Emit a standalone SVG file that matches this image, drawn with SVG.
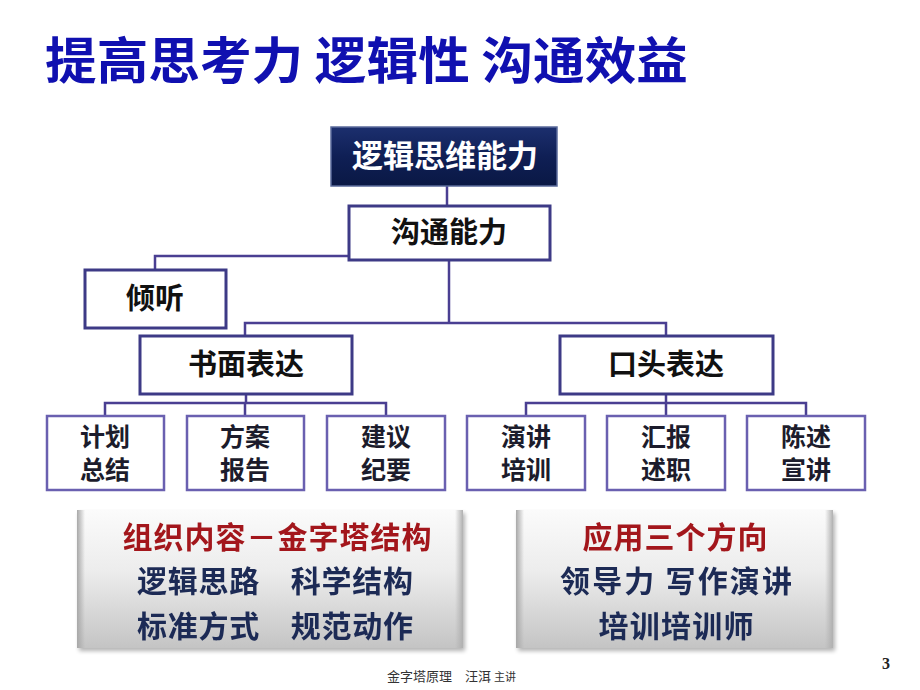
<svg xmlns="http://www.w3.org/2000/svg" width="920" height="690" viewBox="0 0 920 690">
<defs>
<linearGradient id="navy" x1="0" y1="0" x2="0" y2="1">
<stop offset="0" stop-color="#1c2f6e"/>
<stop offset="0.5" stop-color="#0f1f55"/>
<stop offset="1" stop-color="#0a1844"/>
</linearGradient>
<linearGradient id="panel" x1="0" y1="0" x2="0" y2="1">
<stop offset="0" stop-color="#fbfbfb"/>
<stop offset="0.45" stop-color="#ececec"/>
<stop offset="1" stop-color="#c4c4c4"/>
</linearGradient>
<linearGradient id="bevelL" x1="0" y1="0" x2="1" y2="0">
<stop offset="0" stop-color="#a8a8a8"/>
<stop offset="1" stop-color="#a8a8a8" stop-opacity="0"/>
</linearGradient>
<linearGradient id="bevelR" x1="1" y1="0" x2="0" y2="0">
<stop offset="0" stop-color="#b0b0b0"/>
<stop offset="1" stop-color="#b0b0b0" stop-opacity="0"/>
</linearGradient>
<filter id="sh" x="-5%" y="-5%" width="115%" height="120%">
<feGaussianBlur in="SourceAlpha" stdDeviation="2"/>
<feOffset dx="2" dy="3"/>
<feComponentTransfer><feFuncA type="linear" slope="0.3"/></feComponentTransfer>
<feMerge><feMergeNode/><feMergeNode in="SourceGraphic"/></feMerge>
</filter>
</defs>
<style>
text{font-family:"Noto Sans CJK SC","Liberation Sans",sans-serif;text-anchor:middle;font-weight:bold}
.box{fill:#fff;stroke:#3d3a86;stroke-width:3}
.sbox{fill:#fff;stroke:#6a60b0;stroke-width:2.5}
.lbl{font-size:29px;fill:#111}
.slbl{font-size:25px;fill:#1c1c2c}
.conn{fill:none;stroke:#4a3f92;stroke-width:2.5}
.red{fill:#a3191c;font-size:30px}
.dark{fill:#1b2a55;font-size:30px}
</style>
<rect width="920" height="690" fill="#fff"/>
<text x="45" y="79" font-size="50" fill="#1010b0" style="text-anchor:start" textLength="643" lengthAdjust="spacingAndGlyphs">提高思考力 逻辑性 沟通效益</text>

<g id="connectors">
<path class="conn" d="M447,186 V206"/>
<path class="conn" d="M449,260 V323"/>
<path class="conn" d="M155,270 V256 H348"/>
<path class="conn" d="M245,336 V323 H666 V336"/>
<path class="conn" d="M246,394 V403"/>
<path class="conn" d="M105,416 V403 H386 V416 M245,403 V416"/>
<path class="conn" d="M666,394 V403"/>
<path class="conn" d="M526,416 V403 H806 V416 M666,403 V416"/>
</g>

<g id="n-top">
<rect x="331" y="127" width="226" height="59" fill="url(#navy)" stroke="#5a6a9a" stroke-width="1.5"/>
<text x="445" y="167" font-size="31" fill="#fff">逻辑思维能力</text>
</g>
<g id="n-comm">
<rect class="box" x="349" y="206" width="201" height="54"/>
<text class="lbl" x="449" y="243">沟通能力</text>
</g>
<g id="n-listen">
<rect class="box" x="85" y="270" width="141" height="58"/>
<text class="lbl" x="155" y="309">倾听</text>
</g>
<g id="n-written">
<rect class="box" x="140" y="336" width="212" height="58"/>
<text class="lbl" x="246" y="375">书面表达</text>
</g>
<g id="n-oral">
<rect class="box" x="560" y="336" width="213" height="58"/>
<text class="lbl" x="666" y="375">口头表达</text>
</g>

<g id="n-plan">
<rect class="sbox" x="47" y="416" width="117" height="74"/>
<text class="slbl" x="105" y="446">计划</text>
<text class="slbl" x="105" y="479">总结</text>
</g>
<g id="n-scheme">
<rect class="sbox" x="187" y="416" width="117" height="74"/>
<text class="slbl" x="245" y="446">方案</text>
<text class="slbl" x="245" y="479">报告</text>
</g>
<g id="n-suggest">
<rect class="sbox" x="327" y="416" width="118" height="74"/>
<text class="slbl" x="386" y="446">建议</text>
<text class="slbl" x="386" y="479">纪要</text>
</g>
<g id="n-speech">
<rect class="sbox" x="467" y="416" width="118" height="74"/>
<text class="slbl" x="526" y="446">演讲</text>
<text class="slbl" x="526" y="479">培训</text>
</g>
<g id="n-report">
<rect class="sbox" x="607" y="416" width="118" height="74"/>
<text class="slbl" x="666" y="446">汇报</text>
<text class="slbl" x="666" y="479">述职</text>
</g>
<g id="n-state">
<rect class="sbox" x="747" y="416" width="118" height="74"/>
<text class="slbl" x="806" y="446">陈述</text>
<text class="slbl" x="806" y="479">宣讲</text>
</g>

<g id="panel-left" filter="url(#sh)">
<rect x="77" y="510" width="386" height="138" fill="url(#panel)"/>
<rect x="77" y="510" width="8" height="138" fill="url(#bevelL)"/>
<rect x="455" y="510" width="8" height="138" fill="url(#bevelR)"/>
<text class="red" x="277" y="548" textLength="309">组织内容－金字塔结构</text>
<text class="dark" x="275" y="592" textLength="276">逻辑思路　科学结构</text>
<text class="dark" x="275" y="637" textLength="276">标准方式　规范动作</text>
</g>
<g id="panel-right" filter="url(#sh)">
<rect x="516" y="510" width="317" height="138" fill="url(#panel)"/>
<rect x="516" y="510" width="8" height="138" fill="url(#bevelL)"/>
<rect x="825" y="510" width="8" height="138" fill="url(#bevelR)"/>
<text class="red" x="675" y="548" textLength="185">应用三个方向</text>
<text class="dark" x="676" y="592" textLength="232">领导力 写作演讲</text>
<text class="dark" x="676" y="637" textLength="155">培训培训师</text>
</g>

<text x="387" y="681" font-size="13" fill="#333" style="text-anchor:start;font-weight:normal">金字塔原理　汪洱 <tspan font-size="11">主讲</tspan></text>
<text x="886" y="669" font-size="16" fill="#222" style="font-family:'Liberation Serif',serif">3</text>
</svg>
